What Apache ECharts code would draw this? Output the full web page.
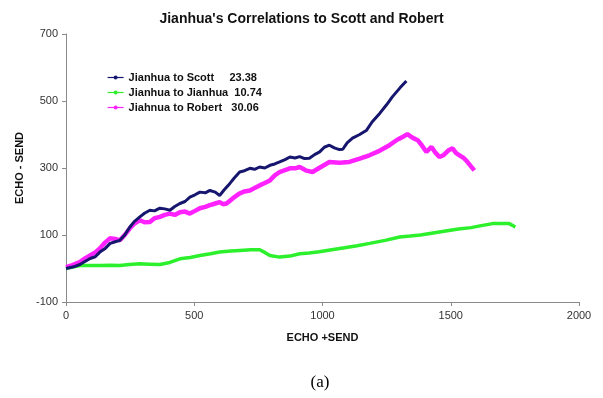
<!DOCTYPE html>
<html>
<head>
<meta charset="utf-8">
<script src="https://cdn.jsdelivr.net/npm/echarts@6/dist/echarts.min.js"></script>
<style>
html,body{margin:0;padding:0;background:#fff;}
#c{width:603px;height:398px;}
</style>
</head>
<body>
<div id="c"></div>
<script>
var titleText = "Jianhua's Correlations to Scott and Robert";
var seriesNames = ["Jianhua to Scott     23.38", "Jianhua to Jianhua  10.74", "Jiahnua to Robert   30.06"];
var xTicks = [0, 500, 1000, 1500, 2000];
var yTicks = [-100, 100, 300, 500, 700];

var scott = [[0,0],[30,5],[54,12],[94,30],[114,35],[132,49],[153,60],[172,75],[192,80],[210,84],[229,100],[249,124],[266,140],[288,154],[306,165],[327,174],[345,172],[366,180],[385,178],[405,174],[424,185],[444,194],[464,200],[483,213],[503,220],[522,228],[543,226],[561,233],[582,228],[599,218],[617,235],[639,254],[656,270],[677,288],[696,292],[717,299],[735,296],[755,303],[775,300],[795,308],[814,312],[833,318],[854,325],[873,333],[893,330],[911,334],[930,328],[949,329],[969,340],[989,348],[1007,362],[1027,368],[1046,360],[1066,355],[1079,356],[1096,375],[1117,389],[1145,400],[1172,413],[1194,438],[1223,463],[1249,488],[1273,513],[1303,540],[1327,560]];

var jianhua = [[0,0],[30,5],[54,9],[99,9],[132,9],[172,10],[210,9],[247,12],[288,14],[326,13],[366,12],[405,18],[444,29],[484,33],[522,39],[563,44],[599,49],[642,52],[677,54],[721,56],[755,56],[775,48],[795,39],[833,34],[873,37],[911,44],[948,46],[987,50],[1036,56],[1086,62],[1135,68],[1184,75],[1244,84],[1301,94],[1342,97],[1382,100],[1431,106],[1480,112],[1530,118],[1579,122],[1619,128],[1663,134],[1698,134],[1728,134],[1752,124]];

var robert = [[0,4],[25,10],[54,19],[74,30],[94,39],[114,48],[132,60],[153,78],[172,90],[192,88],[210,84],[229,100],[249,120],[268,135],[288,144],[306,138],[327,139],[345,150],[366,154],[385,160],[405,164],[424,160],[444,168],[464,170],[483,164],[503,172],[522,180],[543,184],[561,189],[582,194],[599,198],[612,192],[626,194],[651,210],[677,224],[696,230],[717,233],[735,240],[755,248],[775,255],[795,263],[814,278],[833,288],[854,294],[873,299],[893,299],[911,303],[938,292],[961,288],[987,300],[1027,318],[1066,316],[1105,318],[1145,328],[1183,338],[1224,352],[1261,368],[1293,385],[1318,395],[1331,401],[1352,390],[1371,383],[1387,368],[1405,348],[1425,363],[1441,345],[1456,333],[1471,338],[1490,352],[1507,359],[1520,345],[1534,338],[1550,330],[1560,323],[1579,305],[1592,293]];

var colors = ['#16166e', '#2cf02c', '#ff22ff'];
var widths = [3, 3.5, 4.5];
var datas = [scott, jianhua, robert];
var FONT = '"Liberation Sans", Arial, sans-serif';

var chart = echarts.init(document.getElementById('c'), null, {renderer:'canvas'});
var series = seriesNames.map(function(n, i){
  return {
    name: n, type: 'line', data: datas[i],
    symbol: 'circle', symbolSize: 4, showSymbol: false,
    lineStyle: {color: colors[i], width: widths[i]},
    itemStyle: {color: colors[i]},
    z: [3, 1, 2][i],
    animation: false
  };
});
chart.setOption({
  animation: false,
  title: {
    text: titleText, left: 'center', top: 7,
    textStyle: {fontFamily: FONT, fontSize: 14, fontWeight: 'bold', color: '#111'}
  },
  legend: {
    orient: 'vertical', left: 102, top: 67,
    itemWidth: 16, itemHeight: 5, itemGap: 4,
    lineStyle: {width: 1.2},
    textStyle: {fontFamily: FONT, fontSize: 11, fontWeight: 'bold', color: '#111'},
    data: seriesNames
  },
  grid: {left: 66, right: 24, top: 34, bottom: 96, containLabel: false},
  xAxis: {
    type: 'value', min: 0, max: 2000, interval: 500,
    name: 'ECHO +SEND', nameLocation: 'middle', nameGap: 30,
    nameTextStyle: {fontFamily: FONT, fontSize: 11, fontWeight: 'bold', color: '#111'},
    axisLine: {onZero: false, lineStyle: {color: '#8a8a8a', width: 1}},
    axisTick: {show: true, inside: false, length: 4, lineStyle: {color: '#8a8a8a'}},
    axisLabel: {fontFamily: FONT, fontSize: 11, color: '#333', margin: 8,
      formatter: function(v){ return xTicks.indexOf(v) >= 0 ? String(v) : ''; }},
    splitLine: {show: false}
  },
  yAxis: {
    type: 'value', min: -100, max: 700, interval: 200,
    name: 'ECHO - SEND', nameLocation: 'middle', nameGap: 36, nameRotate: 90,
    nameTextStyle: {fontFamily: FONT, fontSize: 11, fontWeight: 'bold', color: '#111'},
    axisLine: {show: true, onZero: false, lineStyle: {color: '#8a8a8a', width: 1}},
    axisTick: {show: true, inside: false, length: 4, lineStyle: {color: '#8a8a8a'}},
    axisLabel: {fontFamily: FONT, fontSize: 11, color: '#333', margin: 8,
      formatter: function(v){ return yTicks.indexOf(v) >= 0 ? String(v) : ''; }},
    splitLine: {show: false}
  },
  graphic: [{
    type: 'text', x: 320, y: 383,
    style: {text: '(a)', font: '17px "Liberation Serif", "Times New Roman", serif', fill: '#000',
      align: 'center', verticalAlign: 'middle'}
  }],
  series: series
});
</script>
</body>
</html>
